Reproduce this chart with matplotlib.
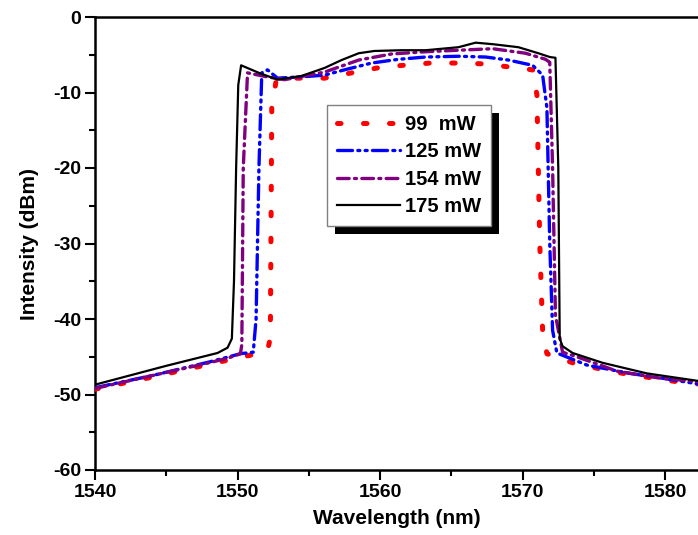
import matplotlib
matplotlib.use("Agg")
import matplotlib.pyplot as plt
from matplotlib.patches import Rectangle
from matplotlib.ticker import MultipleLocator

plt.rcParams['font.family'] = ['Liberation Sans', 'DejaVu Sans']
plt.rcParams['font.weight'] = 'bold'
plt.rcParams['axes.unicode_minus'] = False

# ---- data ----
wl_99 = [1540, 1544, 1548, 1550.9, 1552.1, 1552.3, 1552.4, 1552.7, 1554.2, 1556.1, 1558.0,
         1559.8, 1561.6, 1563.5, 1565.3, 1567.2, 1569.0, 1570.7, 1571.0, 1571.2, 1571.4,
         1571.7, 1573.5, 1575.4, 1577.3, 1580.8, 1582.3]
int_99 = [-49.3, -47.7, -46.0, -44.8, -44.2, -42.5, -12, -8.5, -8.1, -8.1, -7.4,
          -6.75, -6.4, -6.1, -6.1, -6.2, -6.6, -7.0, -10.3, -30, -41.5,
          -44.6, -45.8, -46.6, -47.3, -48.3, -48.6]

wl_125 = [1540, 1544, 1548, 1550.2, 1551.1, 1551.3, 1551.5, 1551.7, 1552.1, 1552.8, 1554.7,
          1556.1, 1557.5, 1559.4, 1561.3, 1563.2, 1565.5, 1567.4, 1569.0, 1570.7, 1571.4,
          1571.7, 1571.9, 1572.1, 1572.4, 1574.5, 1577.5, 1580, 1582.3]
int_125 = [-49.1, -47.5, -45.7, -44.6, -44.4, -40, -20, -7.4, -7.0, -8.1, -7.9,
           -7.7, -7.0, -6.1, -5.6, -5.3, -5.2, -5.3, -5.7, -6.4, -7.7,
           -12, -30, -41.5, -44.5, -46.1, -47.2, -47.9, -48.6]

wl_154 = [1540, 1544, 1548, 1549.3, 1550.2, 1550.3, 1550.4, 1550.7, 1552.0, 1553.3, 1556.1,
          1558.5, 1560.8, 1563.2, 1565.5, 1567.9, 1570.2, 1571.6, 1571.9, 1572.1, 1572.3,
          1572.8, 1573.8, 1576.6, 1579.5, 1582.3]
int_154 = [-49.2, -47.5, -45.8, -45.2, -44.6, -43.4, -20, -7.4, -7.9, -8.3, -7.3,
           -5.7, -4.9, -4.6, -4.4, -4.2, -4.8, -5.6, -6.0, -20, -39.5,
           -44.4, -45.0, -46.9, -47.8, -48.3]

wl_175 = [1540, 1545, 1548.6, 1549.3, 1549.6, 1549.75, 1549.9, 1550.05, 1550.25, 1551.5, 1552.8,
          1554.5, 1556.1, 1557.3, 1558.5, 1559.6, 1561.5, 1563.2, 1565.5, 1566.7, 1567.9,
          1569.7, 1571.1, 1571.9, 1572.3, 1572.5, 1572.6, 1572.8, 1573.5, 1575.6, 1578.7,
          1582.3]
int_175 = [-48.7, -46.2, -44.5, -43.8, -42.6, -35, -20, -9, -6.4, -7.4, -8.3,
           -7.8, -6.75, -5.7, -4.8, -4.5, -4.4, -4.4, -4.0, -3.4, -3.6,
           -4.0, -4.8, -5.3, -5.4, -20, -42.6, -43.6, -44.5, -45.8, -47.2,
           -48.2]

labels = ['99  mW', '125 mW', '154 mW', '175 mW']
x_ticks = [1540, 1550, 1560, 1570, 1580]
y_ticks = [0, -10, -20, -30, -40, -50, -60]

# ---- figure ----
fig = plt.figure(figsize=(6.98, 5.35), dpi=100)
ax = fig.add_axes([95/698, 1 - 470/535, 603/698, 453/535])

ax.plot(wl_99, int_99, color='#ff0000', lw=3.6, dashes=(0.7, 4.5),
        dash_capstyle='round', label=labels[0], zorder=3)
ax.plot(wl_125, int_125, color='#0000ff', lw=2.4, dashes=(4.5, 1.6, 0.6, 1.6, 0.6, 1.6),
        dash_capstyle='round', label=labels[1], zorder=3)
ax.plot(wl_154, int_154, color='#800080', lw=2.4, dashes=(3.5, 1.6, 0.6, 1.6),
        dash_capstyle='round', label=labels[2], zorder=3)
ax.plot(wl_175, int_175, color='black', lw=1.6, label=labels[3], zorder=4)

ax.set_xlim(1540, 1582.3)
ax.set_ylim(-60, 0)
ax.set_xticks(x_ticks)
ax.set_yticks(y_ticks)
ax.xaxis.set_minor_locator(MultipleLocator(5))
ax.yaxis.set_minor_locator(MultipleLocator(5))
ax.tick_params(which='major', direction='out', length=7, width=1.5, labelsize=14, pad=3)
ax.tick_params(which='minor', direction='out', length=4, width=1.5)
for lab in ax.get_xticklabels() + ax.get_yticklabels():
    lab.set_fontweight('bold')

for s in ['left', 'bottom', 'top']:
    ax.spines[s].set_linewidth(1.8)
ax.spines['right'].set_visible(False)

ax.set_xlabel('Wavelength (nm)', fontsize=15, fontweight='bold', labelpad=6)
ax.set_ylabel('Intensity (dBm)', fontsize=15, fontweight='bold', labelpad=10)

leg = ax.legend(loc='upper left', bbox_to_anchor=(0.385, 0.806), borderaxespad=0,
                fancybox=False, framealpha=1, edgecolor='#808080',
                prop={'size': 14.5, 'weight': 'bold'}, handlelength=3.1,
                handletextpad=0.25, labelspacing=0.42, borderpad=0.5)
leg.get_frame().set_linewidth(1.0)
leg.set_zorder(6)

fig.canvas.draw()
bb = leg.get_window_extent().transformed(ax.transAxes.inverted())
off_x = 8 / 603
off_y = 8 / 453
shadow = Rectangle((bb.x0 + off_x, bb.y0 - off_y), bb.width, bb.height,
                   transform=ax.transAxes, facecolor='black', edgecolor='none',
                   zorder=5.5, clip_on=False)
ax.add_patch(shadow)

fig.savefig('out.png', dpi=100)
